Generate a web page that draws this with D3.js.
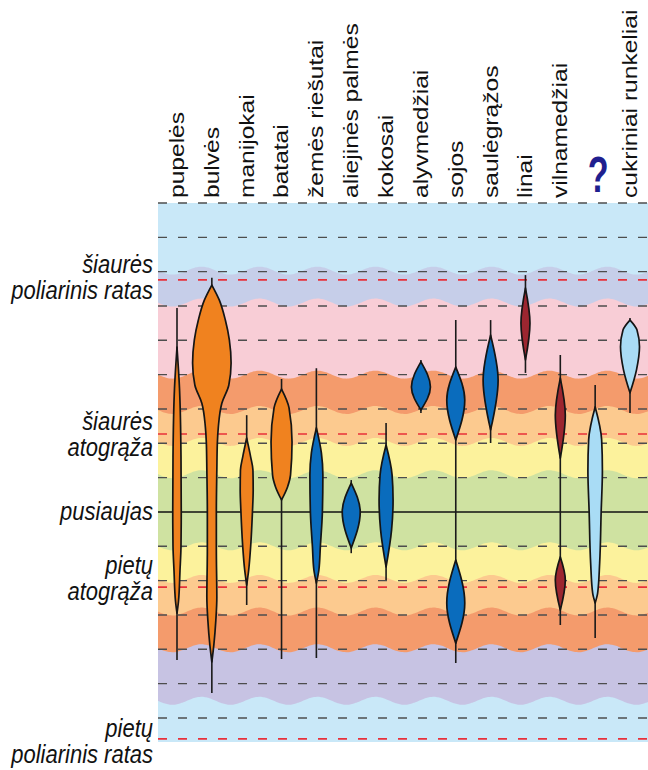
<!DOCTYPE html>
<html>
<head>
<meta charset="utf-8">
<script src="https://cdn.jsdelivr.net/npm/d3@7"></script>
<style>
  body { margin: 0; background: #fff; }
  svg { display: block; }
  text { font-family: "Liberation Sans", Arial, sans-serif; fill: #111; }
</style>
</head>
<body>
<script>
// Crops, left to right
const crops = ["pupelės", "bulvės", "manijokai", "batatai", "žemės riešutai", "aliejinės palmės",
  "kokosai", "alyvmedžiai", "sojos", "saulėgrąžos", "linai", "vilnamedžiai", "?", "cukriniai runkeliai"];
const cropKind = ["orange", "orange", "orange", "orange", "blue", "blue", "blue", "blue", "blue", "blue",
  "red", "red", "pale", "pale"];

// Growing range of each crop (latitude, north positive): [top, bottom]
const stemLat = [[59.4, -43.1], [68.2, -52.7], [28.2, -27.1], [38.7, -42.8], [41.9, -42.5], [9.3, -12],
  [25.9, -19.8], [44.3, 28.8], [55.9, -44], [55.9, 20.1], [69, 40.5], [45.7, -32.9], [37, -36.7], [56.5, 28.8]];

// Main growing zones: one or more spindles per crop, [latitude, width]
const lensProfiles = [
  [[[48, 0], [36, 5], [16, 8], [0, 8.5], [-10, 8], [-17, 6], [-26, 3], [-29.5, 0]]],
  [[[66.1, 0], [61.7, 15], [55.9, 27], [50.1, 35], [43.4, 38.5], [37, 34], [31.7, 20], [24.8, 13], [20.1, 11],
    [12.2, 10], [0, 9], [-11.1, 9], [-24.8, 10], [-31.5, 8], [-38.7, 4], [-43.7, 0]]],
  [[[21.5, 0], [16, 8], [12.2, 12.5], [6.4, 13], [0, 11.5], [-9.9, 8], [-16.9, 4], [-21.3, 0]]],
  [[[35.8, 0], [30.3, 15], [20.4, 21], [10.8, 18], [7.3, 12], [3.5, 0]]],
  [[[24.5, 0], [17.2, 10], [10.8, 13], [0, 12], [-9.9, 8], [-16.9, 5], [-20.7, 0]]],
  [[[8.4, 0], [0, 18], [-10.5, 0]]],
  [[[19.5, 0], [10.8, 12], [3.5, 14], [-5.2, 11], [-16, 0]]],
  [[[43.7, 0], [36.4, 19], [29.7, 0]]],
  [[[42.2, 0], [32.6, 18], [21, 0]], [[-14, 0], [-26.5, 18], [-38.2, 0]]],
  [[[51.5, 0], [38.4, 15], [23.9, 0]]],
  [[[65.2, 0], [55, 9], [44.3, 0]]],
  [[[39, 0], [28.2, 10], [15.7, 0]], [[-13.1, 0], [-19.8, 10], [-28.6, 0]]],
  [[[30.6, 0], [21, 13], [12.2, 14.5], [0, 12], [-14.9, 9], [-23.6, 5], [-26.5, 0]]],
  [[[55.9, 0], [53, 14], [48.1, 19], [41.4, 13], [34.7, 0]]]
];

// Climate belts, top to bottom, and the latitudes between them
const bandEdgeLat = [70.3, 61, 40, 29.7, 20.4, 11, -10, -19.5, -29, -39.7, -55];
const bandColors = ["#c9e8f8", "#c6cee9", "#f8cdd6", "#f49b6c", "#fcca8f", "#fcf29c", "#cfe2a1",
  "#fcf29c", "#fcca8f", "#f49b6c", "#c7c3e3", "#c9e8f8"];

const gridLat = [90, 80, 70, 60, 50, 40, 30, 20, 10, -10, -20, -30, -40, -50, -60];
const circleLat = [67.6, 22.7, -21.9, -66.1];
const zoneLabels = [
  { lines: ["šiaurės", "poliarinis ratas"], lat: 69.6 },
  { lines: ["šiaurės", "atogrąža"], lat: 23.8 },
  { lines: ["pusiaujas"], lat: -2.3 },
  { lines: ["pietų", "atogrąža"], lat: -18 },
  { lines: ["pietų", "poliarinis ratas"], lat: -65.5 }
];

const kindFill = { orange: "#f0821f", blue: "#0a6cbd", red: "#9c2630", pale: "#a9dcf5" };

const W = 648, H = 770;
const plotLeft = 158, plotRight = 648, plotTop = 203, plotBottom = 742;

const svg = d3.select("body").append("svg")
  .attr("width", W)
  .attr("height", H);

const y = d3.scaleLinear().domain([90, -67]).range([plotTop, plotBottom]);
const x = d3.scalePoint().domain(crops).range([177, 630]);
const w = d3.scaleLinear().domain([0, 40]).range([0, 40]);

// wavy belt edges
const waveLen = 58, waveAmp = 4;
const wave = px => waveAmp * Math.sin(2 * Math.PI * (px - plotLeft) / waveLen);
const xs = d3.range(plotLeft, plotRight + 2, 2);

const bands = svg.append("g");
bandColors.forEach((c, i) => {
  const fromLat = i === 0 ? null : bandEdgeLat[i - 1];
  const area = d3.area()
    .x(d => d)
    .y0(d => fromLat === null ? plotTop : y(fromLat) + wave(d))
    .y1(plotBottom)
    .curve(d3.curveBasis);
  bands.append("path")
    .attr("d", area(xs))
    .attr("fill", c);
});

// latitude lines
svg.append("g").selectAll("line")
  .data(gridLat)
  .enter().append("line")
  .attr("x1", plotLeft).attr("x2", plotRight)
  .attr("y1", d => y(d)).attr("y2", d => y(d))
  .attr("stroke", "#4d4d4d")
  .attr("stroke-width", 1.4)
  .attr("stroke-dasharray", "9,11");

svg.append("g").selectAll("line")
  .data(circleLat)
  .enter().append("line")
  .attr("x1", plotLeft).attr("x2", plotRight)
  .attr("y1", d => y(d)).attr("y2", d => y(d))
  .attr("stroke", "#e8303a")
  .attr("stroke-width", 1.6)
  .attr("stroke-dasharray", "9,11");

svg.append("line")
  .attr("x1", plotLeft).attr("x2", plotRight)
  .attr("y1", y(0)).attr("y2", y(0))
  .attr("stroke", "#111")
  .attr("stroke-width", 1.5);

// stems
svg.append("g").selectAll("line")
  .data(crops)
  .enter().append("line")
  .attr("x1", d => x(d)).attr("x2", d => x(d))
  .attr("y1", (d, i) => y(stemLat[i][0]))
  .attr("y2", (d, i) => y(stemLat[i][1]))
  .attr("stroke", "#1a1a1a")
  .attr("stroke-width", 1.6);

// spindles
const lensG = svg.append("g");
crops.forEach((c, i) => {
  const cx = x(c);
  const area = d3.area()
    .y(d => y(d[0]))
    .x0(d => cx - w(d[1]) / 2)
    .x1(d => cx + w(d[1]) / 2)
    .curve(d3.curveMonotoneY);
  lensProfiles[i].forEach(p => {
    lensG.append("path")
      .attr("d", area(p))
      .attr("fill", kindFill[cropKind[i]])
      .attr("stroke", "#151515")
      .attr("stroke-width", 1.7)
      .attr("stroke-linejoin", "round");
  });
});

// crop names
const names = svg.append("g");
crops.forEach(c => {
  if (c === "?") {
    names.append("text")
      .attr("transform", "translate(" + (x(c) + 3) + ",192) scale(0.9,1.3)")
      .attr("text-anchor", "middle")
      .attr("font-size", 38)
      .attr("font-weight", "bold")
      .style("fill", "#1f1f8f")
      .text(c);
  } else {
    names.append("text")
      .attr("transform", "translate(" + x(c) + ",198) scale(1,1.17) rotate(-90)")
      .attr("dy", "0.33em")
      .attr("font-size", 21)
      .text(c);
  }
});

// zone names on the left
const zl = svg.append("g");
zoneLabels.forEach(z => {
  z.lines.forEach((t, k) => {
    zl.append("text")
      .attr("transform", "translate(153," + (y(z.lat) + k * 26) + ") scale(1,1.15)")
      .attr("text-anchor", "end")
      .attr("font-size", 22)
      .attr("font-style", "italic")
      .text(t);
  });
});
</script>
</body>
</html>
